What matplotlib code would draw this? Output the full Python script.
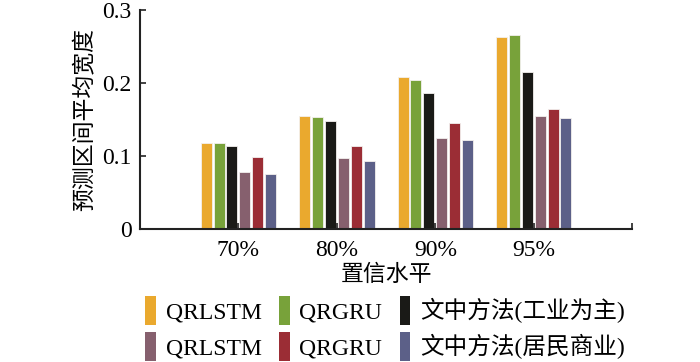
import matplotlib
matplotlib.use('Agg')
import numpy as np
import matplotlib.pyplot as plt
from matplotlib.patches import Patch

levels = ['70%', '80%', '90%', '95%']
series_names = ['QRLSTM', 'QRGRU', '文中方法(工业为主)',
                'QRLSTM', 'QRGRU', '文中方法(居民商业)']
values = [
    [0.118, 0.155, 0.208, 0.263],  # QRLSTM 工业
    [0.118, 0.154, 0.204, 0.266],  # QRGRU 工业
    [0.114, 0.148, 0.187, 0.215],  # 文中方法 工业
    [0.078, 0.097, 0.125, 0.155],  # QRLSTM 居民
    [0.099, 0.114, 0.145, 0.165],  # QRGRU 居民
    [0.076, 0.094, 0.122, 0.152],  # 文中方法 居民
]
colors = ['#EAA92E', '#78A23A', '#1A1A17', '#86606E', '#9B2D35', '#5C6088']

serif = ['Liberation Serif', 'Noto Sans CJK SC']
cjk = ['Noto Sans CJK SC', 'Liberation Serif']
plt.rcParams['font.family'] = serif

fig = plt.figure(figsize=(7, 3.62), dpi=100)
ax = fig.add_axes([0.2, 0.367, 0.703, 0.605])

x = np.arange(1, len(levels) + 1)
step = 0.131
width = 0.112
handles = []
for i, (vals, c) in enumerate(zip(values, colors)):
    off = (i - 2.5) * step
    ax.bar(x + off, vals, width=width, color=c, edgecolor='#f3f0ee', linewidth=0.6)
    handles.append(Patch(facecolor=c, edgecolor='none'))

ax.set_xlim(0, 5)
ax.set_ylim(0, 0.3)
ax.set_yticks([0, 0.1, 0.2, 0.3])
ax.set_yticklabels(['0', '0.1', '0.2', '0.3'])
ax.set_xticks(x)
ax.set_xticklabels(levels)
ax.set_xticks([5], minor=True)
ax.tick_params(axis='both', which='both', direction='in', labelsize=17,
               length=4, width=1.2, color='#222222')
ax.tick_params(axis='x', pad=8)
ax.tick_params(axis='y', pad=6)
for s in ['top', 'right']:
    ax.spines[s].set_visible(False)
for s in ['left', 'bottom']:
    ax.spines[s].set_linewidth(1.5)
    ax.spines[s].set_color('#222222')

ax.set_ylabel('预测区间平均宽度', family=cjk, fontsize=16.5, labelpad=4)
ax.set_xlabel('置信水平', family=cjk, fontsize=16.5, labelpad=1)

order = [0, 3, 1, 4, 2, 5]
leg = fig.legend([handles[i] for i in order], [series_names[i] for i in order],
                 ncol=3, loc='lower center', bbox_to_anchor=(0.55, -0.055),
                 frameon=False, fontsize=17, handlelength=0.45, handleheight=1.5,
                 handletextpad=0.4, columnspacing=0.75, labelspacing=0.3)
for t in leg.get_texts():
    t.set_family(serif)

fig.savefig('out.png', dpi=100)
